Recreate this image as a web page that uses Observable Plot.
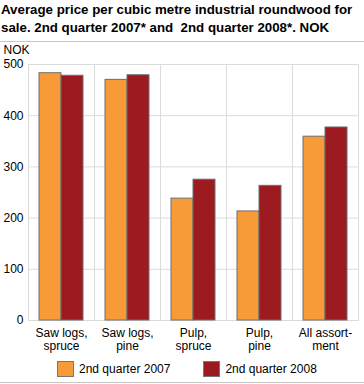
<!DOCTYPE html>
<html><head>
<meta charset="utf-8">
<script src="https://cdn.jsdelivr.net/npm/d3@7"></script>
<script src="https://cdn.jsdelivr.net/npm/@observablehq/plot@0.6"></script>
<style>
html,body{margin:0;padding:0;background:#fff;}
body{font-family:"Liberation Sans",Arial,sans-serif;width:364px;height:384px;overflow:hidden;position:relative;}
#title{font-weight:bold;font-size:13.3px;line-height:18px;padding:1px 0 0 1px;height:42px;border-bottom:1px solid #c8c8c8;box-sizing:border-box;color:#000;white-space:nowrap;}
#chart svg{display:block;}
#legend{position:absolute;left:57px;top:361px;display:flex;align-items:center;font-size:12px;color:#000;}
.item{display:flex;align-items:center;margin-right:33px;}
.sw{width:15px;height:14px;border:1px solid #777;margin-right:5px;}
#bottomline{position:absolute;left:0;top:382px;width:364px;border-top:1px solid #c8c8c8;}
</style>
</head><body>
<div id="title">Average price per cubic metre industrial roundwood for<br>sale. 2nd quarter 2007* and&nbsp; 2nd quarter 2008*. NOK</div>
<div id="chart"></div>
<div id="legend"></div>
<div id="bottomline"></div>
<script>
const categories = ["Saw logs, spruce", "Saw logs, pine", "Pulp, spruce", "Pulp, pine", "All assortment"];
const categoryLabels = ["Saw logs,\nspruce", "Saw logs,\npine", "Pulp,\nspruce", "Pulp,\npine", "All assort-\nment"];
const series = ["2nd quarter 2007", "2nd quarter 2008"];
const values2007 = [483, 470, 238, 213, 359];
const values2008 = [478, 479, 275, 263, 377];
const colors = ["#f79b38", "#9b1b20"];
const yTicks = [0, 100, 200, 300, 400, 500];
const yLabel = "NOK";

const data = [];
categories.forEach((c, i) => {
  data.push({category: c, series: series[0], value: values2007[i]});
  data.push({category: c, series: series[1], value: values2008[i]});
});
const labelOf = Object.fromEntries(categories.map((c, i) => [c, categoryLabels[i]]));

const chart = Plot.plot({
  width: 364,
  height: 313,
  marginTop: 22,
  marginBottom: 35,
  marginLeft: 27,
  marginRight: 6,
  style: {fontFamily: "'Liberation Sans', Arial, sans-serif", fontSize: "12px", color: "#000", background: "#fff"},
  fx: {domain: categories, padding: 0, label: null},
  x: {domain: series, paddingInner: 0, paddingOuter: 0.44, axis: null},
  y: {domain: [0, 500], ticks: yTicks, label: null},
  color: {domain: series, range: colors},
  marks: [
    Plot.gridY(yTicks, {stroke: "#dcdcdc", strokeOpacity: 1}),
    Plot.frame({stroke: "#dcdcdc", strokeOpacity: 1}),
    Plot.barY(data, {fx: "category", x: "series", y: "value", fill: "series", stroke: "#6e6e6e", strokeWidth: 1}),
    Plot.axisY(yTicks, {tickSize: 0, tickPadding: 5, fontSize: 12, label: null}),
    Plot.axisFx({anchor: "bottom", tickSize: 0, tickPadding: 7, fontSize: 12, label: null, tickFormat: d => labelOf[d], lineHeight: 1.1}),
    Plot.text([yLabel], {frameAnchor: "top-left", text: d => d, textAnchor: "start", fontSize: 12, dx: -25, dy: -19, facet: "super"})
  ]
});
document.getElementById("chart").appendChild(chart);

const legend = document.getElementById("legend");
series.forEach((s, i) => {
  const item = document.createElement("div");
  item.className = "item";
  const sw = document.createElement("div");
  sw.className = "sw";
  sw.style.background = colors[i];
  const t = document.createElement("span");
  t.textContent = s;
  item.appendChild(sw); item.appendChild(t);
  legend.appendChild(item);
});
</script>
</body></html>
